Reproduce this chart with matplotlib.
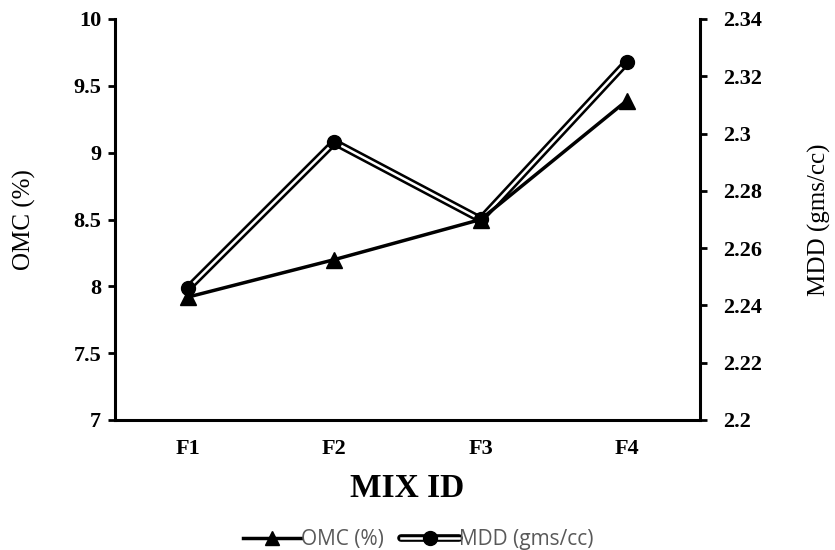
import matplotlib
matplotlib.use("Agg")
import matplotlib.pyplot as plt
from matplotlib.lines import Line2D
from matplotlib.legend_handler import HandlerTuple

# data
mix_ids = ["F1", "F2", "F3", "F4"]
omc = [7.92, 8.2, 8.5, 9.39]
mdd = [2.246, 2.297, 2.27, 2.325]

omc_ticks = [7, 7.5, 8, 8.5, 9, 9.5, 10]
mdd_ticks = [2.2, 2.22, 2.24, 2.26, 2.28, 2.3, 2.32, 2.34]

serif = "Liberation Serif"

fig = plt.figure(figsize=(8.35, 5.5), dpi=100)
ax = fig.add_axes([115 / 835, 1 - 420 / 550, 585 / 835, 401 / 550])
ax2 = ax.twinx()
x = list(range(len(mix_ids)))

# MDD - double line (black outer, white inner)
ax2.plot(x, mdd, color="black", lw=5.5, solid_joinstyle="miter", zorder=2)
ax2.plot(x, mdd, color="white", lw=1.8, zorder=3)
ax2.plot(x, mdd, ls="none", marker="o", ms=10, color="black", zorder=4)

# OMC line on left axis, drawn on top
ax.set_zorder(ax2.get_zorder() + 1)
ax.patch.set_visible(False)
ax.plot(x, omc, color="black", lw=2.5, marker="^", ms=11, zorder=5)

ax.set_xlim(-0.5, 3.5)
ax.set_ylim(7, 10)
ax2.set_ylim(2.2, 2.34)
ax.set_yticks(omc_ticks)
ax.set_yticklabels([f"{v:g}" for v in omc_ticks])
ax2.set_yticks(mdd_ticks)
ax2.set_yticklabels([f"{v:g}" for v in mdd_ticks])
ax.set_xticks(x)
ax.set_xticklabels(mix_ids)

for a in (ax, ax2):
    for s in a.spines.values():
        s.set_linewidth(2.2)
    a.spines["top"].set_visible(False)
ax.spines["right"].set_visible(False)
ax2.spines["left"].set_visible(False)
ax2.spines["bottom"].set_visible(False)

ax.tick_params(axis="y", length=5, width=2, pad=5)
ax.tick_params(axis="x", length=0, pad=14)
ax2.tick_params(axis="y", length=5, width=2, pad=11.5)
for lab in ax.get_yticklabels() + ax.get_xticklabels() + ax2.get_yticklabels():
    lab.set_fontfamily(serif)
    lab.set_fontweight("bold")
    lab.set_fontsize(16)

ax.set_ylabel("OMC (%)", fontfamily=serif, fontsize=18, labelpad=27)
ax2.set_ylabel("MDD (gms/cc)", fontfamily=serif, fontsize=18, labelpad=33)
ax.set_xlabel("MIX ID", fontfamily=serif, fontsize=24, fontweight="bold", labelpad=10)

# legend
h_omc = Line2D([], [], color="black", lw=2.5, marker="^", ms=10)
h_mdd_outer = Line2D([], [], color="black", lw=5.5, solid_capstyle="round")
h_mdd_inner = Line2D([], [], color="white", lw=1.8)
h_mdd_mark = Line2D([], [], ls="none", color="black", marker="o", ms=10)
leg = fig.legend([h_omc, (h_mdd_outer, h_mdd_inner, h_mdd_mark)],
                 ["OMC (%)", "MDD (gms/cc)"],
                 handler_map={tuple: HandlerTuple(ndivide=1)},
                 loc="center", bbox_to_anchor=(418 / 835, 1 - 540 / 550), ncol=2,
                 frameon=False, handlelength=2.8, handletextpad=0.0, columnspacing=0.8,
                 prop={"family": "Open Sans", "size": 15})
for t in leg.get_texts():
    t.set_color("#595959")

fig.savefig("out.png", dpi=100)
